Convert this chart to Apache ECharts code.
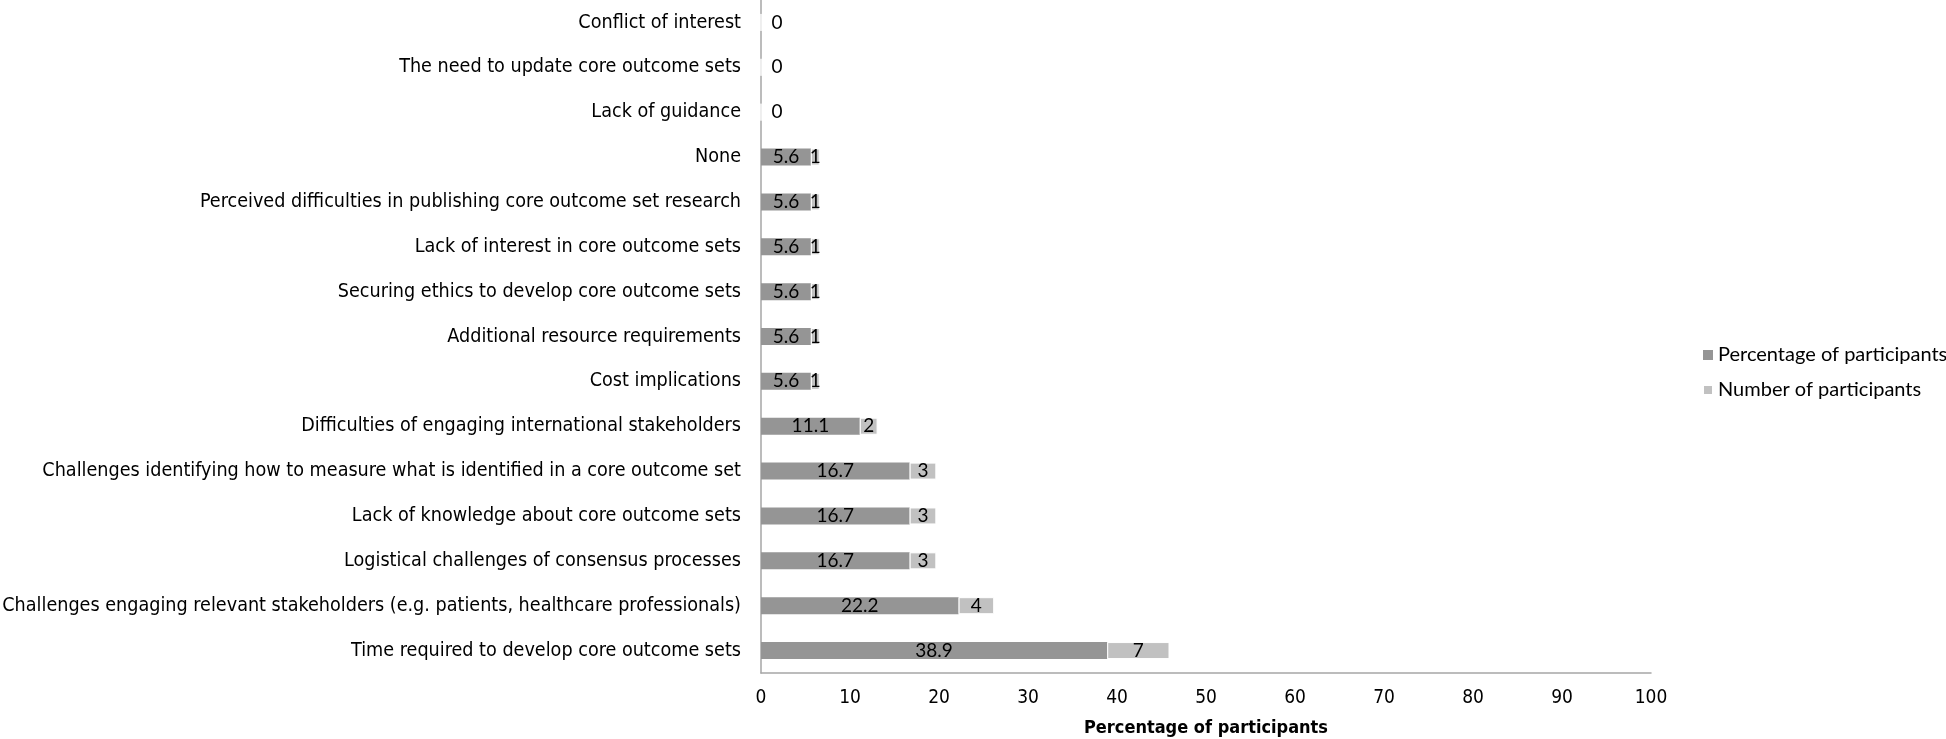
<!DOCTYPE html>
<html>
<head>
<meta charset="utf-8">
<script src="https://cdn.jsdelivr.net/npm/echarts@6/dist/echarts.min.js"></script>
<style>html,body{margin:0;padding:0;background:#fff}#c{width:1946px;height:739px}</style>
</head>
<body>
<div id="c"></div>
<script>
const categories = [
  'Conflict of interest',
  'The need to update core outcome sets',
  'Lack of guidance',
  'None',
  'Perceived difficulties in publishing core outcome set research',
  'Lack of interest in core outcome sets',
  'Securing ethics to develop core outcome sets',
  'Additional resource requirements',
  'Cost implications',
  'Difficulties of engaging international stakeholders',
  'Challenges identifying how to measure what is identified in a core outcome set',
  'Lack of knowledge about core outcome sets',
  'Logistical challenges of consensus processes',
  'Challenges engaging relevant stakeholders (e.g. patients, healthcare professionals)',
  'Time required to develop core outcome sets'
];
const percentValues = [0, 0, 0, 5.6, 5.6, 5.6, 5.6, 5.6, 5.6, 11.1, 16.7, 16.7, 16.7, 22.2, 38.9];
const numberValues = [0, 0, 0, 1, 1, 1, 1, 1, 1, 2, 3, 3, 3, 4, 7];
const xTicks = [0, 10, 20, 30, 40, 50, 60, 70, 80, 90, 100];

const labelFont = {fontFamily: 'Lato', fontSize: 19, color: '#000'};
const catFont = '"DejaVu Sans Condensed"';

const chart = echarts.init(document.getElementById('c'));
chart.setOption({
  animation: false,
  backgroundColor: '#fff',
  grid: {left: 761, right: 295, top: 0, bottom: 66, containLabel: false, outerBoundsMode: 'none'},
  legend: {
    orient: 'vertical',
    left: 1697, top: 340,
    itemWidth: 10, itemHeight: 10, itemGap: 15,
    icon: 'rect',
    textStyle: {fontFamily: 'Lato', fontSize: 20, color: '#000', lineHeight: 20},
    data: ['Percentage of participants', 'Number of participants']
  },
  xAxis: {
    type: 'value', min: xTicks[0], max: xTicks[xTicks.length - 1], interval: 10,
    name: 'Percentage of participants', nameLocation: 'middle', nameGap: 46,
    nameTextStyle: {fontFamily: catFont, fontSize: 18, fontWeight: 'bold', color: '#000'},
    axisLine: {show: true, lineStyle: {color: '#a6a6a6', width: 1.5}},
    axisTick: {show: false},
    splitLine: {show: false},
    axisLabel: {fontFamily: catFont, fontSize: 19, color: '#000', margin: 16}
  },
  yAxis: {
    type: 'category', inverse: true, data: categories,
    axisLine: {show: true, lineStyle: {color: '#a6a6a6', width: 1.5}},
    axisTick: {show: false},
    axisLabel: {fontFamily: catFont, fontSize: 19.6, color: '#000', margin: 20}
  },
  series: [
    {
      name: 'Percentage of participants', type: 'bar', stack: 's', barWidth: 17,
      itemStyle: {color: '#959595'},
      label: Object.assign({show: true, position: 'inside',
        formatter: p => p.value > 0 ? String(p.value) : ''}, labelFont),
      data: percentValues
    },
    {
      name: 'Number of participants', type: 'bar', stack: 's', barWidth: 17,
      itemStyle: {color: '#c1c1c1', borderColor: '#fff', borderWidth: 1},
      label: Object.assign({show: true, position: 'inside'}, labelFont),
      data: numberValues.map(v => v === 0
        ? {value: v, label: {position: 'right', distance: 10}}
        : {value: v})
    }
  ]
});
</script>
</body>
</html>
